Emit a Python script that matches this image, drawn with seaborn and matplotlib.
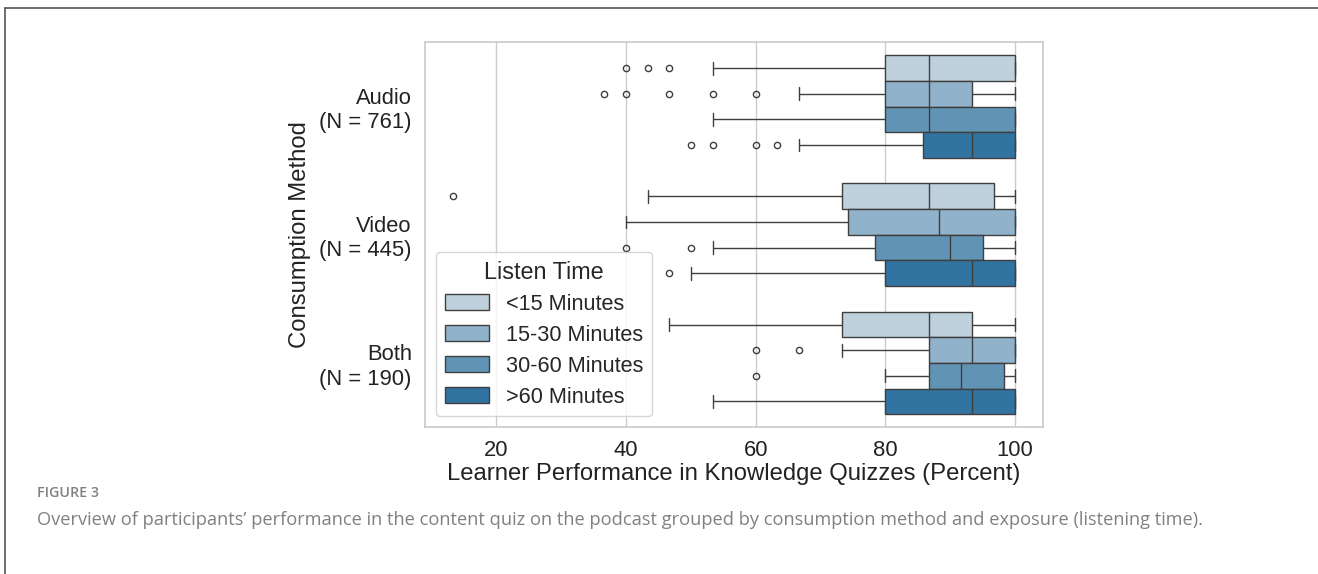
import numpy as np
import pandas as pd
import seaborn as sns
import matplotlib.pyplot as plt
from matplotlib.lines import Line2D

# Quiz scores (percent) per consumption method and listening time
methods = ["Audio\n(N = 761)", "Video\n(N = 445)", "Both\n(N = 190)"]
listen_times = ["<15 Minutes", "15-30 Minutes", "30-60 Minutes", ">60 Minutes"]

audio_lt15 = [40, 43.33, 46.67, 53.33, 66.67, 73.33, 80, 80, 83.33, 83.33, 86.67, 86.67, 86.67,
              90, 93.33, 93.33, 96.67, 100, 100, 100, 100, 100, 100, 100, 100]
audio_15_30 = [36.67, 40, 46.67, 53.33, 60, 66.67, 80, 80, 83.33, 83.33, 86.67, 86.67, 86.67,
               90, 90, 93.33, 93.33, 93.33, 93.33, 96.67, 96.67, 100, 100, 100, 100]
audio_30_60 = [53.33, 60, 66.67, 70, 73.33, 76.67, 80, 80, 83.33, 83.33, 86.67, 86.67, 86.67,
               90, 93.33, 93.33, 96.67, 100, 100, 100, 100, 100, 100, 100, 100]
audio_gt60 = [50, 53.33, 60, 63.33, 66.67, 76.67, 83.33, 88.33, 90, 90, 91.67, 93.33, 93.33,
              93.33, 95, 96.67, 96.67, 100, 100, 100, 100, 100, 100, 100, 100, 100, 100]

video_lt15 = [13.33, 43.33, 56.67, 63.33, 66.67, 70, 73.33, 76.67, 80, 80, 83.33, 86.67, 86.67,
              90, 90, 93.33, 93.33, 96.67, 96.67, 96.67, 100, 100, 100, 100, 100]
video_15_30 = [40, 50, 56.67, 63.33, 66.67, 70, 73.33, 75, 80, 83.33, 83.33, 86.67, 86.67,
               88.33, 90, 93.33, 93.33, 96.67, 96.67, 100, 100, 100, 100, 100, 100, 100, 100]
video_30_60 = [40, 50, 53.33, 63.33, 70, 76.67, 78.33, 80, 83.33, 86.67, 86.67, 88.33, 90,
               90, 93.33, 93.33, 93.33, 95, 95, 96.67, 96.67, 100, 100, 100, 100]
video_gt60 = [46.67, 50, 60, 66.67, 73.33, 76.67, 80, 83.33, 86.67, 86.67, 90, 93.33, 93.33,
              93.33, 96.67, 96.67, 100, 100, 100, 100, 100, 100, 100, 100, 100]

both_lt15 = [46.67, 53.33, 60, 63.33, 66.67, 70, 73.33, 76.67, 80, 80, 83.33, 86.67, 86.67,
             86.67, 90, 90, 93.33, 93.33, 93.33, 96.67, 96.67, 100, 100, 100, 100]
both_15_30 = [60, 66.67, 73.33, 76.67, 80, 83.33, 86.67, 86.67, 90, 90, 93.33, 93.33, 93.33,
              93.33, 96.67, 96.67, 100, 100, 100, 100, 100, 100, 100, 100, 100]
both_30_60 = [60, 80, 80, 83.33, 83.33, 86.67, 86.67, 86.67, 90, 90, 90, 91.67, 91.67,
              93.33, 93.33, 96.67, 96.67, 98.33, 98.33, 100, 100, 100, 100, 100, 100]
both_gt60 = [53.33, 60, 66.67, 70, 73.33, 76.67, 80, 83.33, 86.67, 86.67, 90, 93.33, 93.33,
             93.33, 96.67, 96.67, 100, 100, 100, 100, 100, 100, 100, 100, 100]

groups = {
    (methods[0], listen_times[0]): audio_lt15,
    (methods[0], listen_times[1]): audio_15_30,
    (methods[0], listen_times[2]): audio_30_60,
    (methods[0], listen_times[3]): audio_gt60,
    (methods[1], listen_times[0]): video_lt15,
    (methods[1], listen_times[1]): video_15_30,
    (methods[1], listen_times[2]): video_30_60,
    (methods[1], listen_times[3]): video_gt60,
    (methods[2], listen_times[0]): both_lt15,
    (methods[2], listen_times[1]): both_15_30,
    (methods[2], listen_times[2]): both_30_60,
    (methods[2], listen_times[3]): both_gt60,
}
rows = [(m, t, s) for (m, t), scores in groups.items() for s in scores]
df = pd.DataFrame(rows, columns=["method", "listen", "score"])

sns.set_theme(style="whitegrid")
plt.rcParams["font.family"] = ["Liberation Sans", "DejaVu Sans"]

fig = plt.figure(figsize=(13.18, 5.74), dpi=100)
ax = fig.add_axes([0.3225, 0.256, 0.469, 0.670])

palette = sns.light_palette("#1f77b4", 5)[1:]
sns.boxplot(data=df, x="score", y="method", hue="listen",
            order=methods, hue_order=listen_times, palette=palette,
            orient="h", fliersize=4.5, ax=ax)

ax.set_xlabel("Learner Performance in Knowledge Quizzes (Percent)", fontsize=17.2,
              color="#222222", labelpad=1)
ax.set_ylabel("Consumption Method", fontsize=17.2, color="#222222", labelpad=6)
ax.tick_params(axis="both", labelsize=15.8, colors="#222222")
ax.set_xticks([20, 40, 60, 80, 100])

leg = ax.legend(title="Listen Time", loc="lower left", fontsize=15.6, title_fontsize=16.8,
                handlelength=2.05, handleheight=0.78, labelspacing=0.46,
                borderaxespad=0.5)

# Page frame and caption
fig.add_artist(Line2D([0.004, 1.0], [0.986, 0.986], transform=fig.transFigure,
                      color="#555555", lw=1.2))
fig.add_artist(Line2D([0.004, 0.004], [0.0, 0.986], transform=fig.transFigure,
                      color="#555555", lw=1.2))
fig.text(0.028, 0.141, "FIGURE 3", fontsize=10.3, color="#808080", family="Open Sans",
         fontweight="semibold", va="center")
fig.text(0.028, 0.094,
         "Overview of participants\u2019 performance in the content quiz on the podcast grouped by "
         "consumption method and exposure (listening time).",
         fontsize=13.15, color="#808080", family="Open Sans", va="center")

fig.savefig("out.png", dpi=100)
